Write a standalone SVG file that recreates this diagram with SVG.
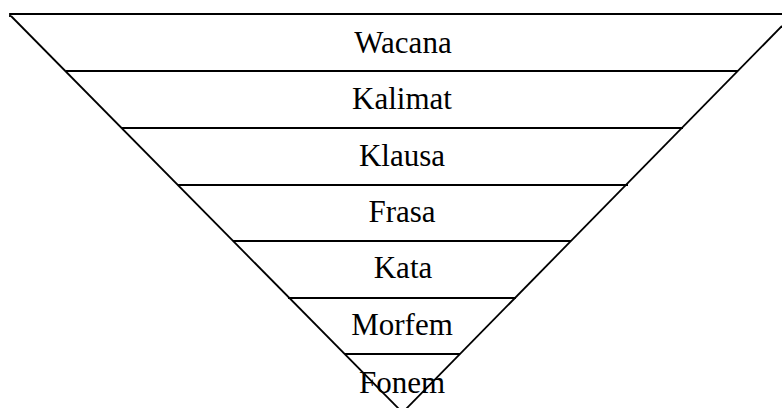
<svg xmlns="http://www.w3.org/2000/svg" width="782" height="408" viewBox="0 0 782 408">
<style>
.ln{stroke:#000;stroke-width:1.8;fill:none}
.t{font-family:"Liberation Serif","Times New Roman",serif;font-size:31px;fill:#000;text-anchor:middle}
</style>
<rect width="782" height="408" fill="#fff"/>
<g id="connectors">
<path class="ln" d="M10,17 L10,14 L782,14"/>
<path class="ln" d="M11,16 L399,409"/>
<path class="ln" d="M782,26 L406,409"/>
</g>
<g id="wacana"><line class="ln" x1="66" y1="71" x2="738" y2="71"/><text class="t" x="403" y="53">Wacana</text></g>
<g id="kalimat"><line class="ln" x1="122" y1="128" x2="683" y2="128"/><text class="t" x="402" y="109">Kalimat</text></g>
<g id="klausa"><line class="ln" x1="178" y1="185" x2="628" y2="185"/><text class="t" x="402" y="166">Klausa</text></g>
<g id="frasa"><line class="ln" x1="233" y1="241" x2="571" y2="241"/><text class="t" x="402" y="222">Frasa</text></g>
<g id="kata"><line class="ln" x1="288" y1="298" x2="516" y2="298"/><text class="t" x="403" y="278">Kata</text></g>
<g id="morfem"><line class="ln" x1="345" y1="354" x2="460" y2="354"/><text class="t" x="402" y="335">Morfem</text></g>
<g id="fonem"><text class="t" x="402" y="393">Fonem</text></g>
</svg>
